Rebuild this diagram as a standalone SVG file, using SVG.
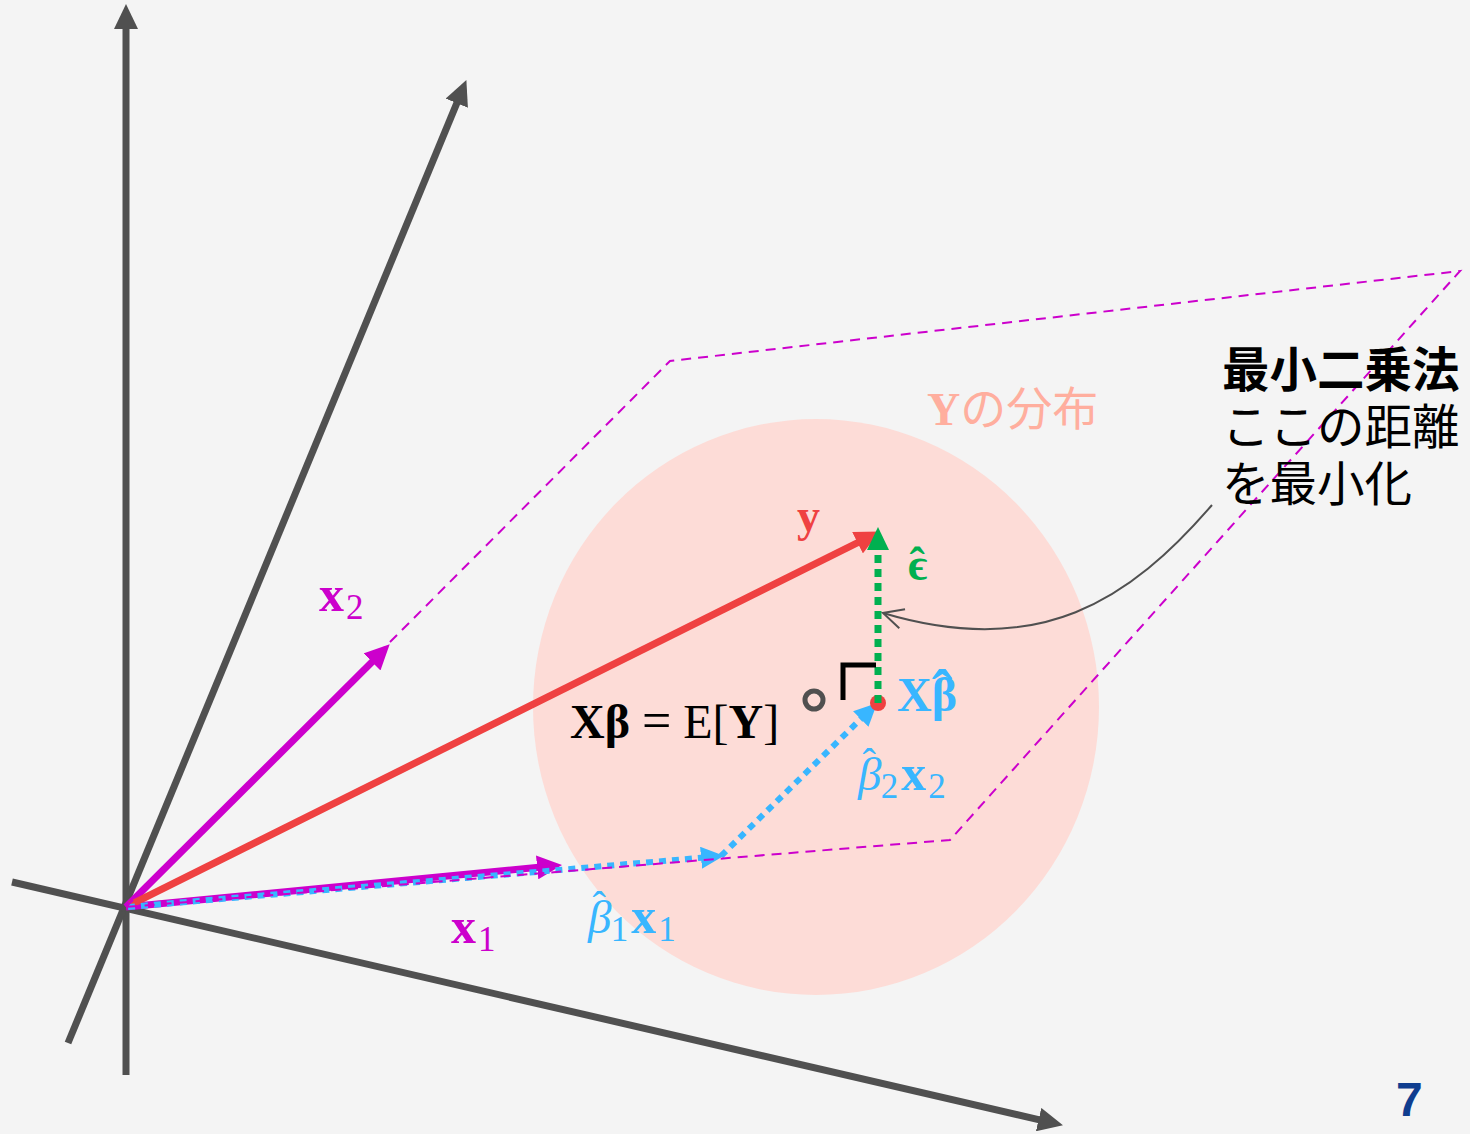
<svg xmlns="http://www.w3.org/2000/svg" width="1470" height="1134" viewBox="0 0 1470 1134">
<style>
.axis{stroke:#505050;stroke-width:7;fill:none}
.mag{stroke:#cc00cc;stroke-width:7;fill:none}
.plane{stroke:#cc00cc;stroke-width:2;fill:none;stroke-dasharray:10 7}
.blue{stroke:#38b6ff;stroke-width:6;fill:none;stroke-dasharray:7 6}
.green{stroke:#00b050;stroke-width:7;fill:none;stroke-dasharray:8 6}
.math{font-family:"Liberation Serif","DejaVu Serif",serif}
.b{font-weight:bold}
.cjk{font-family:"Noto Sans CJK JP",sans-serif}
</style>
<defs>
<marker id="ahGray" markerUnits="userSpaceOnUse" markerWidth="26" markerHeight="24" refX="12" refY="12" orient="auto"><path d="M0,0 L25,12 L0,24 z" fill="#505050"/></marker>
<marker id="ahRed" markerUnits="userSpaceOnUse" markerWidth="26" markerHeight="24" refX="12" refY="12" orient="auto"><path d="M0,0 L25,12 L0,24 z" fill="#ef4141"/></marker>
<marker id="ahMag" markerUnits="userSpaceOnUse" markerWidth="26" markerHeight="24" refX="12" refY="12" orient="auto"><path d="M0,0 L25,12 L0,24 z" fill="#cc00cc"/></marker>
<marker id="ahBlue" markerUnits="userSpaceOnUse" markerWidth="24" markerHeight="22" refX="10" refY="11" orient="auto"><path d="M0,0 L23,11 L0,22 z" fill="#38b6ff"/></marker>
<marker id="ahGreen" markerUnits="userSpaceOnUse" markerWidth="24" markerHeight="22" refX="10" refY="11" orient="auto"><path d="M0,0 L23,11 L0,22 z" fill="#00b050"/></marker>
<marker id="ahOpen" markerUnits="userSpaceOnUse" markerWidth="24" markerHeight="24" refX="22" refY="12" orient="auto"><path d="M2,2 L22,12 L2,22" fill="none" stroke="#505050" stroke-width="2"/></marker>
</defs>
<rect width="1470" height="1134" fill="#f4f4f4"/>
<g id="distribution">
<ellipse cx="816" cy="707" rx="283" ry="288" fill="#fddcd7"/>
<text x="927" y="425" font-size="46" fill="#ffae9e"><tspan class="math b">Y</tspan><tspan class="cjk">の分布</tspan></text>
</g>
<g id="connectors">
<line class="axis" x1="126" y1="1075" x2="126" y2="17" marker-end="url(#ahGray)"/>
<line class="axis" x1="68" y1="1043" x2="461.4" y2="92.1" marker-end="url(#ahGray)"/>
<line class="axis" x1="12" y1="882" x2="1050.3" y2="1122.3" marker-end="url(#ahGray)"/>
<line class="mag" x1="126" y1="907" x2="380.5" y2="653.5" marker-end="url(#ahMag)"/>
<line class="mag" x1="126" y1="907" x2="549.1" y2="866.2" marker-end="url(#ahMag)"/>
<line stroke="#ef4141" stroke-width="7" x1="130" y1="905" x2="868.3" y2="537.3" marker-end="url(#ahRed)"/>
<line class="blue" x1="128" y1="907" x2="711" y2="856.9" marker-end="url(#ahBlue)"/>
<line class="blue" x1="721" y1="856" x2="867.9" y2="712" marker-end="url(#ahBlue)"/>
<path class="plane" d="M126,907 L670,361 L1460,271 L950,840 Z"/>
<circle cx="878" cy="703" r="8" fill="#ef4141"/>
<line class="green" x1="878" y1="703" x2="878" y2="540" marker-end="url(#ahGreen)"/>
<path d="M843,700 L843,665 L876,665" fill="none" stroke="#000" stroke-width="5"/>
<circle cx="814" cy="700" r="9" fill="none" stroke="#505050" stroke-width="5"/>
<path d="M1212,505 C1130,600 1040,660 883,613" fill="none" stroke="#505050" stroke-width="2" marker-end="url(#ahOpen)"/>
</g>
<g id="label-y"><text class="math b" x="797" y="531" font-size="46" fill="#ef4141">y</text></g>
<g id="label-eps"><text class="math b" x="908" y="580" font-size="46" fill="#00b050">ϵ<tspan dx="-18" dy="-1">ˆ</tspan></text></g>
<g id="label-xbetahat"><text class="math b" x="897" y="711" font-size="48" fill="#38b6ff">Xβ<tspan font-size="62" dx="-25" dy="2">ˆ</tspan></text></g>
<g id="label-b2x2"><text class="math" x="858" y="790" font-size="47" fill="#38b6ff"><tspan font-style="italic">β</tspan><tspan font-size="40" dx="-19" dy="-14">ˆ</tspan><tspan font-size="35" dx="5" dy="22">2</tspan><tspan class="b" font-size="50" dx="3" dy="-8">x</tspan><tspan font-size="35" dx="2" dy="8">2</tspan></text></g>
<g id="label-b1x1"><text class="math" x="588" y="933" font-size="47" fill="#38b6ff"><tspan font-style="italic">β</tspan><tspan font-size="40" dx="-19" dy="-14">ˆ</tspan><tspan font-size="35" dx="5" dy="22">1</tspan><tspan class="b" font-size="50" dx="3" dy="-8">x</tspan><tspan font-size="35" dx="2" dy="8">1</tspan></text></g>
<g id="label-x1"><text class="math" x="451" y="943" font-size="50" fill="#cc00cc"><tspan class="b">x</tspan><tspan font-size="35" dx="2" dy="8">1</tspan></text></g>
<g id="label-x2"><text class="math" x="319" y="611" font-size="50" fill="#cc00cc"><tspan class="b">x</tspan><tspan font-size="35" dx="2" dy="8">2</tspan></text></g>
<g id="label-exp"><text class="math" x="570" y="738" font-size="48" fill="#000"><tspan class="b">Xβ</tspan> <tspan font-size="52">=</tspan> E[<tspan class="b">Y</tspan>]</text></g>
<g id="note"><text class="cjk" font-size="47.5" fill="#000"><tspan x="1222" y="387" font-weight="bold">最小二乗法</tspan><tspan x="1222" y="444">ここの距離</tspan><tspan x="1222" y="501">を最小化</tspan></text></g>
<g id="page"><text x="1396" y="1116" font-family="Liberation Sans,Arial,sans-serif" font-weight="bold" font-size="48" fill="#0f3d8f">7</text></g>
</svg>
